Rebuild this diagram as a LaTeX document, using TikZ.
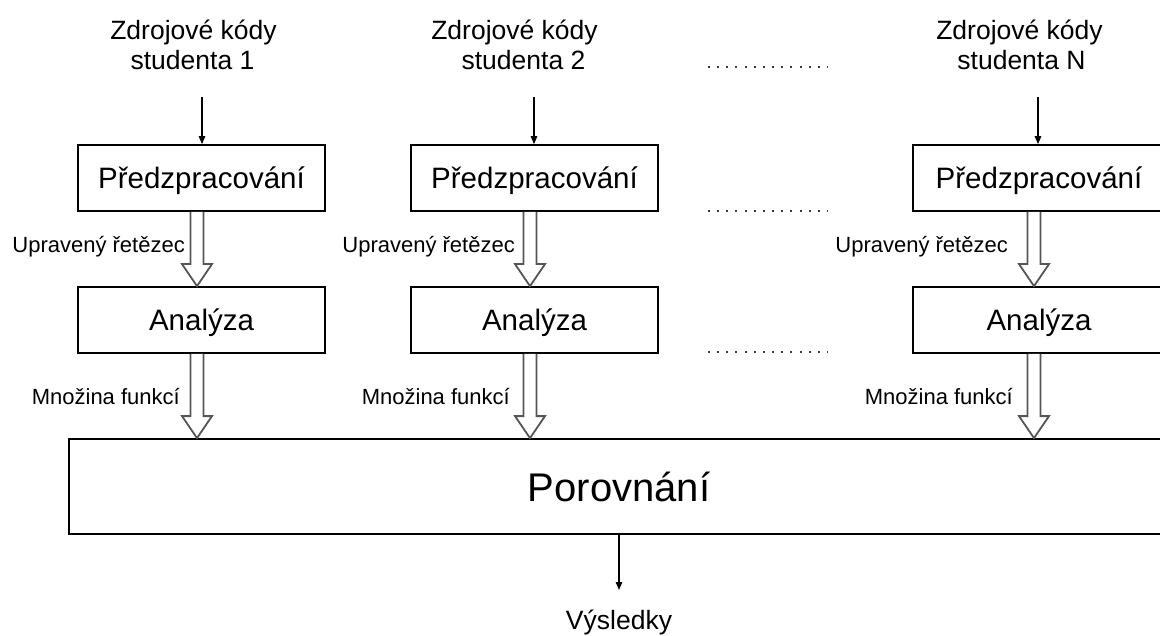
\documentclass[tikz,border=0pt]{standalone}
\usepackage{fontspec}
\setmainfont{Liberation Sans}
\usetikzlibrary{arrows.meta,calc}
\definecolor{arrgray}{RGB}{85,85,85}
\definecolor{dotgray}{RGB}{60,60,60}
\newcommand\hollowarrow[3]{%
  \draw[hollow] let \p1=(#1.south), \p2=(#2.north) in
    (#3pt-6.5pt,\y1) -- (#3pt-6.5pt,\y2+22pt) -- (#3pt-15pt,\y2+22pt) -- (#3pt,\y2)
    -- (#3pt+15pt,\y2+22pt) -- (#3pt+6.5pt,\y2+22pt) -- (#3pt+6.5pt,\y1);}
\begin{document}
\begin{tikzpicture}[x=1pt,y=-1pt,
  box/.style={draw=black,line width=1.8pt,fill=white,inner sep=0pt,minimum height=66pt,
    font=\fontsize{29.5}{33}\selectfont,text height=21pt,text depth=0pt},
  title/.style={font=\fontsize{26.5}{30}\selectfont,anchor=base,inner sep=0pt},
  lab/.style={font=\fontsize{22}{26}\selectfont,anchor=base east,inner sep=0pt},
  hollow/.style={draw=arrgray,line width=1.8pt,fill=white},
  thinarr/.style={line width=1.4pt,-{Triangle[length=8pt,width=6.5pt]}},
  dots/.style={line width=2pt,dash pattern=on 2pt off 7.15pt,draw=dotgray}]
\useasboundingbox (0,0) rectangle (1160,636);
\clip (0,0) rectangle (1160,636);
% titles
\node[title] (z1a) at (193.5,40) {Zdrojové kódy};
\node[title] (z1b) at (192.5,70) {studenta 1};
\node[title] (z2a) at (514.5,40) {Zdrojové kódy};
\node[title] (z2b) at (523.5,70) {studenta 2};
\node[title] (z3a) at (1019.5,40) {Zdrojové kódy};
\node[title] (z3b) at (1021.5,70) {studenta N};
% boxes
\node[box,minimum width=247pt] (p1) at (201.5,178) {Předzpracování};
\node[box,minimum width=247pt] (p2) at (534.5,178) {Předzpracování};
\node[box,minimum width=252pt] (p3) at (1039,178) {Předzpracování};
\node[box,minimum width=247pt] (a1) at (201.5,320) {Analýza};
\node[box,minimum width=247pt] (a2) at (534.5,320) {Analýza};
\node[box,minimum width=252pt] (a3) at (1039,320) {Analýza};
\node[box,minimum width=1100pt,minimum height=95pt,font=\fontsize{40}{44}\selectfont,text height=29pt] (por) at (619,486.5) {Porovnání};
% thin arrows
\coordinate (s1) at (202,97);
\coordinate (s2) at (534,97);
\coordinate (s3) at (1038,97);
\draw[thinarr] (s1) -- (s1 |- p1.north);
\draw[thinarr] (s2) -- (s2 |- p2.north);
\draw[thinarr] (s3) -- (s3 |- p3.north);
% hollow arrows
\hollowarrow{p1}{a1}{197}
\hollowarrow{p2}{a2}{530}
\hollowarrow{p3}{a3}{1034}
\hollowarrow{a1}{por}{197}
\hollowarrow{a2}{por}{530}
\hollowarrow{a3}{por}{1034}
% labels
\node[lab] (u1) at (185,253) {Upravený řetězec};
\node[lab] (u2) at (515,253) {Upravený řetězec};
\node[lab] (u3) at (1008,253) {Upravený řetězec};
\node[lab] (m1) at (180,405) {Množina funkcí};
\node[lab] (m2) at (510,405) {Množina funkcí};
\node[lab] (m3) at (1013,405) {Množina funkcí};
% dotted separators
\draw[dots] (708,67) -- (827,67);
\draw[dots] (708,211) -- (827,211);
\draw[dots] (708,352) -- (827,352);
% result
\coordinate (r) at (619,590);
\draw[thinarr] (por.south -| r) -- (r);
\node[title] (res) at (619,629) {Výsledky};
\end{tikzpicture}
\end{document}
